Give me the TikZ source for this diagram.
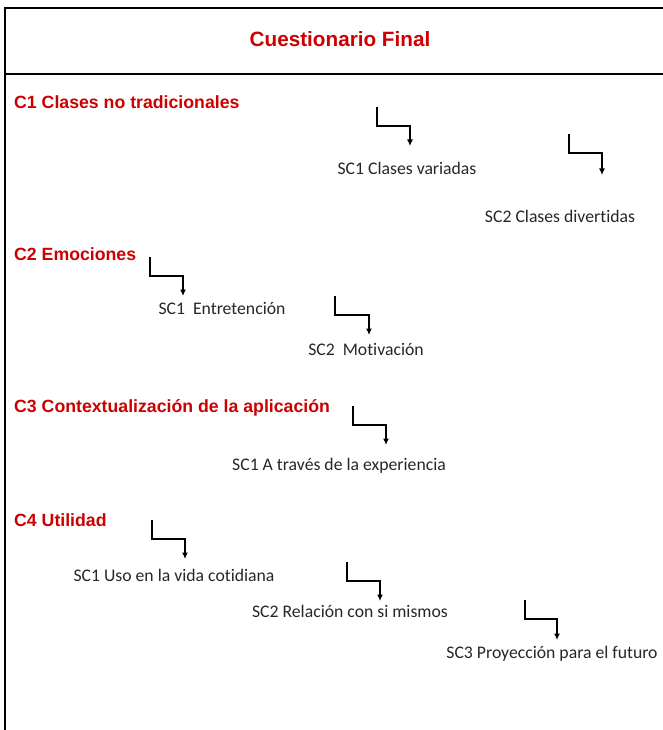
\documentclass[tikz,border=0pt]{standalone}
\usepackage{fontspec}
\setmainfont[Ligatures=NoCommon]{Carlito}
\newfontfamily\headfont{Liberation Sans}
\usetikzlibrary{arrows.meta}
\definecolor{headred}{RGB}{204,0,0}

\begin{document}
\begin{tikzpicture}[x=1pt,y=-1pt,
  head/.style={anchor=base west,inner sep=0,text=headred,font=\headfont\bfseries\fontsize{17.7}{20}\selectfont},
  sub/.style={anchor=base,inner sep=0,text=black!85,font=\fontsize{17.7}{20}\selectfont},
  stair/.style={line width=1.2pt,-{Latex[length=6.5pt,width=6pt]}}]
\def\h{19}
\newcommand\stair[2]{\draw[stair] (#1) -- ++(0,\h) -| (#2);}

\useasboundingbox (0,0) rectangle (663,730);
\draw[line width=1.8pt] (663,8) -- (5,8) -- (5,730);
\draw[line width=1.8pt] (5,74) -- (663,74);
\node (tit) at (340,47) [head,anchor=base,font=\headfont\bfseries\fontsize{20.7}{24}\selectfont] {Cuestionario Final};

% C1
\node (c1) at (14,109) [head] {C1 Clases no tradicionales};
\node (s11) at (407,175) [sub] {SC1 Clases variadas};
\node (s12) at (560,222) [sub] {SC2 Clases divertidas};
\coordinate (a11) at (377,107);
\coordinate (b11) at (410,146);
\coordinate (a12) at (569,134);
\coordinate (b12) at (602,175);
\stair{a11}{b11}
\stair{a12}{b12}

% C2
\node (c2) at (14,260) [head] {C2 Emociones};
\node (s21) at (222,314) [sub] {SC1~~Entretención};
\node (s22) at (366,355) [sub] {SC2~~Motivación};
\coordinate (a21) at (150,257);
\coordinate (b21) at (183,296);
\coordinate (a22) at (335,296);
\coordinate (b22) at (369,335);
\stair{a21}{b21}
\stair{a22}{b22}

% C3
\node (c3) at (14,412) [head] {C3 Contextualización de la aplicación};
\node (s31) at (339,470) [sub] {SC1 A través de la experiencia};
\coordinate (a31) at (353,406);
\coordinate (b31) at (386,445);
\stair{a31}{b31}

% C4
\node (c4) at (14,526) [head] {C4 Utilidad};
\node (s41) at (174,581) [sub] {SC1 Uso en la vida cotidiana};
\node (s42) at (350,617) [sub] {SC2 Relación con si mismos};
\node (s43) at (552,658) [sub] {SC3 Proyección para el futuro};
\coordinate (a41) at (152,520);
\coordinate (b41) at (185,559);
\coordinate (a42) at (347,562);
\coordinate (b42) at (380,601);
\coordinate (a43) at (525,600);
\coordinate (b43) at (557,640);
\stair{a41}{b41}
\stair{a42}{b42}
\stair{a43}{b43}
\end{tikzpicture}
\end{document}
